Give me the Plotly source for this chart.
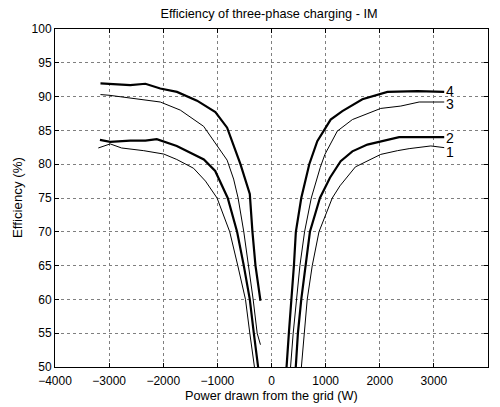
import plotly.graph_objects as go

# ---------------- data ----------------
# curve 1 (thin)
c1_neg_x = [-3200, -2980, -2770, -2360, -1990, -1750, -1440, -1220, -1006, -772, -623, -481, -401, -315, -290]
c1_neg_y = [82.4, 83.0, 82.4, 82.0, 81.5, 80.7, 79.4, 77.5, 75.0, 70.0, 65.0, 60.0, 55.0, 50.0, 47.0]
c1_pos_x = [520, 550, 599, 660, 753, 877, 1123, 1265, 1550, 2018, 2327, 2543, 2944, 3191]
c1_pos_y = [47.0, 50.0, 55.0, 60.0, 65.0, 70.0, 75.0, 76.8, 79.6, 81.45, 82.0, 82.3, 82.7, 82.45]

# curve 2 (thick)
c2_neg_x = [-3170, -2980, -2610, -2330, -2120, -1750, -1250, -1040, -809, -636, -512, -401, -327, -247, -225]
c2_neg_y = [83.6, 83.3, 83.5, 83.5, 83.7, 82.7, 80.7, 79.0, 75.0, 70.0, 65.0, 60.0, 55.0, 50.0, 47.0]
c2_pos_x = [425, 444, 488, 550, 630, 710, 895, 1080, 1278, 1494, 1772, 2358, 3191]
c2_pos_y = [47.0, 50.0, 55.0, 60.0, 65.0, 70.0, 75.0, 78.0, 80.45, 81.9, 82.9, 84.0, 84.0]

# curve 3 (thin)
c3_neg_x = [-3160, -3000, -2055, -1685, -1254, -820, -700, -617, -512, -420, -339, -265, -204]
c3_neg_y = [90.3, 90.2, 89.2, 88.0, 85.6, 80.6, 77.8, 75.0, 70.0, 65.0, 60.0, 55.0, 53.3]
c3_pos_x = [335, 352, 401, 457, 525, 611, 735, 900, 987, 1216, 1494, 2018, 2389, 2728, 3191]
c3_pos_y = [47.0, 50.0, 55.0, 60.0, 65.0, 70.0, 75.0, 79.5, 81.45, 84.9, 86.6, 88.25, 88.6, 89.2, 89.2]

# curve 4 (thick)
c4_neg_x = [-3160, -2800, -2610, -2330, -2055, -1746, -1376, -1037, -820, -574, -401, -352, -296, -204]
c4_neg_y = [91.95, 91.8, 91.7, 91.9, 91.2, 90.7, 89.4, 87.7, 85.4, 80.0, 75.6, 70.0, 65.0, 59.8]
c4_pos_x = [262, 278, 321, 370, 414, 450, 550, 698, 846, 1093, 1309, 1679, 2142, 2698, 3191]
c4_pos_y = [47.0, 50.0, 55.0, 60.0, 65.0, 70.0, 75.0, 80.0, 83.4, 86.6, 87.85, 89.6, 90.7, 90.8, 90.7]

curve_labels = ["1", "2", "3", "4"]
label_y = [81.8, 83.9, 88.85, 90.8]
label_x = 3190

x_ticks = [-4000, -3000, -2000, -1000, 0, 1000, 2000, 3000, 4000]
y_ticks = [50, 55, 60, 65, 70, 75, 80, 85, 90, 95, 100]

title_text = "Efficiency of three-phase charging - IM"
x_title = "Power drawn from the grid (W)"
y_title = "Efficiency (%)"

# ---------------- figure ----------------
FONT = "Liberation Sans, Arial, sans-serif"
OFF = 8                      # default page body margin
W, H = 500 - OFF, 407 - OFF
ML, MR, MT, MB = 55 - OFF, 12, 29 - OFF, 40
PW, PH = W - ML - MR, H - MT - MB

fig = go.Figure()

series = [
    (c1_neg_x, c1_neg_y, 1.0), (c1_pos_x, c1_pos_y, 1.0),
    (c2_neg_x, c2_neg_y, 2.2), (c2_pos_x, c2_pos_y, 2.2),
    (c3_neg_x, c3_neg_y, 1.0), (c3_pos_x, c3_pos_y, 1.0),
    (c4_neg_x, c4_neg_y, 2.2), (c4_pos_x, c4_pos_y, 2.2),
]
for xs, ys, w in series:
    fig.add_trace(go.Scatter(x=xs, y=ys, mode="lines",
                             line=dict(color="black", width=w),
                             showlegend=False, hoverinfo="skip"))

for lab, ly in zip(curve_labels, label_y):
    fig.add_annotation(x=label_x, y=ly, text=lab, showarrow=False,
                       xanchor="left", yanchor="middle",
                       font=dict(family=FONT, size=14, color="black"))


def px_x(p):  # page pixel -> paper x
    return (p - OFF - ML) / PW


def px_y(p):  # page pixel -> paper y
    return (H - MB - (p - OFF)) / PH


fig.add_annotation(xref="paper", yref="paper", x=px_x(271), y=px_y(396),
                   text=x_title, showarrow=False, xanchor="center", yanchor="middle",
                   font=dict(family=FONT, size=12.7, color="black"))
fig.add_annotation(xref="paper", yref="paper", x=px_x(17), y=px_y(198),
                   text=y_title, textangle=-90, showarrow=False,
                   xanchor="center", yanchor="middle",
                   font=dict(family=FONT, size=13.3, color="black"))

axis_common = dict(
    showline=True, linecolor="black", linewidth=1, mirror="ticks",
    ticks="inside", ticklen=4, tickcolor="black", tickwidth=1,
    showgrid=True, gridcolor="#7f7f7f", griddash="dot", gridwidth=1,
    zeroline=False, automargin=False,
    tickfont=dict(family=FONT, size=12, color="black"),
)

fig.update_xaxes(range=[-4000, 4000], tickvals=x_ticks, ticklabelstandoff=3, **axis_common)
fig.update_yaxes(range=[50, 100], tickvals=y_ticks, **axis_common)

fig.update_layout(
    width=W, height=H,
    margin=dict(l=ML, r=MR, t=MT, b=MB, autoexpand=False),
    paper_bgcolor="white", plot_bgcolor="white",
    title=dict(text=title_text, x=(269 - OFF) / W, xanchor="center",
               y=1 - (14 - OFF) / H, yanchor="middle",
               font=dict(family=FONT, size=12.7, color="black")),
    font=dict(family=FONT, color="black"),
)

fig.write_html("out.html")
